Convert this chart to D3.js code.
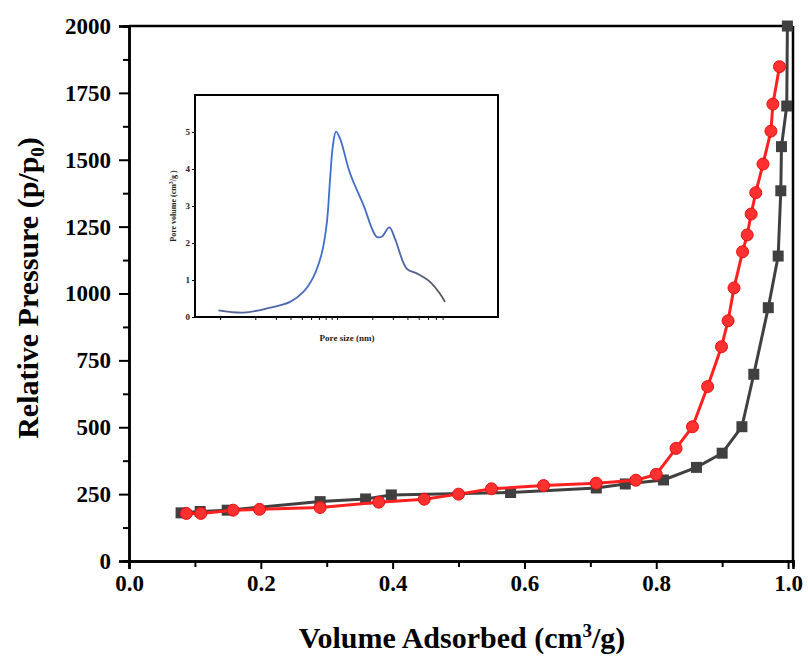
<!DOCTYPE html>
<html>
<head>
<meta charset="utf-8">
<script src="https://cdn.jsdelivr.net/npm/d3@7"></script>
<style>
  body { margin: 0; background: #fff; }
  svg text { font-family: "Liberation Serif", "Times New Roman", Times, "DejaVu Serif", serif !important; font-weight: bold; }
</style>
</head>
<body>
<div id="chart"></div>
<script>
// main isotherm, black squares
var blackX = [0.079, 0.108, 0.149, 0.290, 0.359, 0.398, 0.579, 0.709, 0.753, 0.811, 0.861, 0.900, 0.930, 0.948, 0.970, 0.985, 0.989, 0.990, 0.998, 0.999]
var blackY = [180, 185, 190, 222, 232, 247, 256, 273, 288, 303, 350, 403, 502, 698, 947, 1140, 1384, 1549, 1701, 2000]
// red circles
var redX = [0.087, 0.109, 0.158, 0.198, 0.290, 0.379, 0.448, 0.500, 0.550, 0.629, 0.709, 0.769, 0.800, 0.830, 0.855, 0.878, 0.899, 0.909, 0.918, 0.931, 0.938, 0.944, 0.951, 0.962, 0.974, 0.977, 0.987]
var redY = [178, 178, 190, 193, 200, 220, 231, 250, 270, 282, 291, 302, 324, 421, 502, 652, 801, 898, 1021, 1156, 1219, 1297, 1377, 1484, 1607, 1708, 1848]

var xTicks = [0.0, 0.2, 0.4, 0.6, 0.8, 1.0]
var yTicks = [0, 250, 500, 750, 1000, 1250, 1500, 1750, 2000]

// inset: pore size distribution
var poreSize = [0.97, 1.58, 2.51, 3.97, 5.15, 6.27, 7.40, 8.17, 8.71, 9.19, 9.80, 10.6, 12.9, 16.8, 21.8, 24.1, 28.0, 31.3, 39.4, 48.0, 62.4, 75.9, 83.8]
var poreVol = [0.18, 0.12, 0.23, 0.41, 0.68, 1.08, 1.72, 2.53, 3.70, 4.60, 5.01, 4.83, 3.89, 3.03, 2.17, 2.17, 2.42, 2.12, 1.31, 1.18, 0.95, 0.63, 0.41]
var insetYTicks = [0, 1, 2, 3, 4, 5]
var insetXTicks = [1, 2, 3, 4, 5, 6, 7, 8, 9, 10, 20, 30, 40, 50, 60, 70, 80]

var W = 808, H = 658
var svg = d3.select("#chart").append("svg")
            .attr("width", W)
            .attr("height", H)

var xScale = d3.scaleLinear().domain([0, 1.0075]).range([129, 793])
var yScale = d3.scaleLinear().domain([0, 2000]).range([561, 26])

var blackData = blackX.map(function(d, i){ return {x: d, y: blackY[i]} })
var redData = redX.map(function(d, i){ return {x: d, y: redY[i]} })

var line = d3.line()
             .x(function(d){ return xScale(d.x) })
             .y(function(d){ return yScale(d.y) })

// frame top / right
svg.append("line")
   .attr("x1", xScale(0)).attr("x2", xScale(1.0075))
   .attr("y1", yScale(2000)).attr("y2", yScale(2000))
   .attr("stroke", "#000").attr("stroke-width", 2.5)
svg.append("line")
   .attr("x1", xScale(1.0075)).attr("x2", xScale(1.0075))
   .attr("y1", yScale(2000)).attr("y2", yScale(0))
   .attr("stroke", "#000").attr("stroke-width", 2.5)

// minor ticks
var xMinor = d3.axisBottom(xScale).tickValues(d3.range(0.1, 1.0, 0.2)).tickSize(6).tickFormat("")
var yMinor = d3.axisLeft(yScale).tickValues(d3.range(125, 2000, 250)).tickSize(6).tickFormat("")
svg.append("g").attr("class", "x_minor").attr("transform", "translate(0," + yScale(0) + ")").call(xMinor)
svg.append("g").attr("class", "y_minor").attr("transform", "translate(" + xScale(0) + ",0)").call(yMinor)

var xAxis = d3.axisBottom(xScale).tickValues(xTicks).tickSize(8).tickPadding(6).tickFormat(d3.format(".1f"))
var yAxis = d3.axisLeft(yScale).tickValues(yTicks).tickSize(10).tickPadding(8).tickFormat(d3.format("d"))

svg.append("g")
   .attr("class", "x_axis")
   .attr("transform", "translate(0," + yScale(0) + ")")
   .call(xAxis)
svg.append("g")
   .attr("class", "y_axis")
   .attr("transform", "translate(" + xScale(0) + ",0)")
   .call(yAxis)

svg.selectAll(".x_axis .domain, .y_axis .domain, .x_minor .domain, .y_minor .domain")
   .attr("stroke-width", 2.5)
svg.selectAll(".tick line").attr("stroke-width", 2)
svg.selectAll(".x_axis text, .y_axis text")
   .attr("font-size", 23)
   .attr("fill", "#000")

// axis titles
svg.append("text")
   .attr("x", 462).attr("y", 648)
   .attr("text-anchor", "middle")
   .attr("font-size", 30)
   .html('Volume Adsorbed (cm<tspan dy="-11" font-size="19">3</tspan><tspan dy="11">/g)</tspan>')
svg.append("text")
   .attr("transform", "translate(38,288) rotate(-90)")
   .attr("text-anchor", "middle")
   .attr("font-size", 30)
   .html('Relative Pressure (p/p<tspan dy="6" font-size="19">0</tspan><tspan dy="-6">)</tspan>')

// series
svg.append("path")
   .datum(blackData)
   .attr("d", line)
   .attr("fill", "none")
   .attr("stroke", "#404040")
   .attr("stroke-width", 3)
svg.append("g").selectAll(".sq")
   .data(blackData)
   .enter().append("rect")
   .attr("class", "sq")
   .attr("x", function(d){ return xScale(d.x) - 5.5 })
   .attr("y", function(d){ return yScale(d.y) - 5.5 })
   .attr("width", 11).attr("height", 11)
   .attr("fill", "#404040")

svg.append("path")
   .datum(redData)
   .attr("d", line)
   .attr("fill", "none")
   .attr("stroke", "#ff2020")
   .attr("stroke-width", 3)
svg.append("g").selectAll(".dot")
   .data(redData)
   .enter().append("circle")
   .attr("class", "dot")
   .attr("cx", function(d){ return xScale(d.x) })
   .attr("cy", function(d){ return yScale(d.y) })
   .attr("r", 6)
   .attr("fill", "#ff3030")
   .attr("stroke", "#e81010")
   .attr("stroke-width", 1)

// ---- inset ----
var ix = d3.scaleLog().domain([0.61, 238]).range([195, 498])
var iy = d3.scaleLinear().domain([0, 6]).range([317, 95])

var inset = svg.append("g").attr("class", "inset")
inset.append("rect")
     .attr("x", 195).attr("y", 95)
     .attr("width", 303).attr("height", 222)
     .attr("fill", "#fff")
     .attr("stroke", "#000").attr("stroke-width", 2)

inset.append("g")
     .attr("transform", "translate(0,317)")
     .call(d3.axisBottom(ix).tickValues(insetXTicks).tickSize(3).tickFormat(""))
     .call(function(g){ g.select(".domain").remove() })
inset.append("g")
     .attr("transform", "translate(195,0)")
     .call(d3.axisLeft(iy).tickValues(insetYTicks).tickSize(3).tickPadding(2).tickFormat(d3.format("d")))
     .call(function(g){ g.select(".domain").remove() })
inset.selectAll("text")
     .attr("font-size", 9)
     .attr("fill", "#222")
inset.selectAll(".tick line").attr("stroke-width", 1)

var grad = svg.append("defs").append("linearGradient")
              .attr("id", "psd").attr("gradientUnits", "userSpaceOnUse")
              .attr("x1", 218).attr("x2", 445).attr("y1", 0).attr("y2", 0)
grad.append("stop").attr("offset", "0%").attr("stop-color", "#55608a")
grad.append("stop").attr("offset", "30%").attr("stop-color", "#4a68b0")
grad.append("stop").attr("offset", "50%").attr("stop-color", "#3c6fd2")
grad.append("stop").attr("offset", "78%").attr("stop-color", "#4a68b0")
grad.append("stop").attr("offset", "100%").attr("stop-color", "#555")

var psdLine = d3.line()
                .x(function(d, i){ return ix(poreSize[i]) })
                .y(function(d){ return iy(d) })
                .curve(d3.curveCatmullRom)
inset.append("path")
     .datum(poreVol)
     .attr("d", psdLine)
     .attr("fill", "none")
     .attr("stroke", "url(#psd)")
     .attr("stroke-width", 1.8)

inset.append("text")
     .attr("x", 347).attr("y", 341)
     .attr("text-anchor", "middle")
     .attr("font-size", 9)
     .attr("fill", "#222")
     .text("Pore size (nm)")
inset.append("text")
     .attr("transform", "translate(176,206) rotate(-90)")
     .attr("text-anchor", "middle")
     .attr("font-size", 8)
     .attr("fill", "#222")
     .html('Pore volume (cm<tspan dy="-3" font-size="6">3</tspan><tspan dy="3">/g )</tspan>')
</script>
</body>
</html>
